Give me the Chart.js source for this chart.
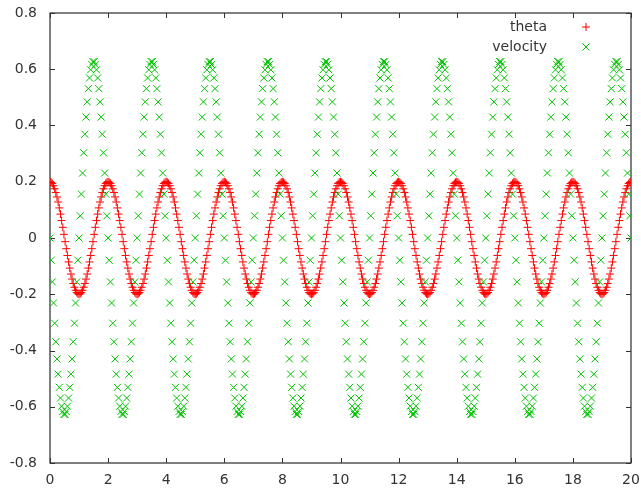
<!DOCTYPE html>
<html><head><meta charset="utf-8">
<script src="https://cdn.jsdelivr.net/npm/chart.js@4.4.0/dist/chart.umd.min.js"></script>
<style>html,body{margin:0;padding:0;background:#fff}#wrap{width:641px;height:490px;position:relative}</style>
</head><body><div id="wrap"><canvas id="c"></canvas></div>
<script>
const seriesNames = ['theta', 'velocity'];

const time = [
0,0.04,0.08,0.12,0.16,0.2,0.24,0.28,0.32,0.36,0.4,0.44,0.48,0.52,0.56,0.6,0.64,0.68,0.72,0.76,0.8,0.84,0.88,0.92,0.96,
1,1.04,1.08,1.12,1.16,1.2,1.24,1.28,1.32,1.36,1.4,1.44,1.48,1.52,1.56,1.6,1.64,1.68,1.72,1.76,1.8,1.84,1.88,1.92,1.96,
2,2.04,2.08,2.12,2.16,2.2,2.24,2.28,2.32,2.36,2.4,2.44,2.48,2.52,2.56,2.6,2.64,2.68,2.72,2.76,2.8,2.84,2.88,2.92,2.96,
3,3.04,3.08,3.12,3.16,3.2,3.24,3.28,3.32,3.36,3.4,3.44,3.48,3.52,3.56,3.6,3.64,3.68,3.72,3.76,3.8,3.84,3.88,3.92,3.96,
4,4.04,4.08,4.12,4.16,4.2,4.24,4.28,4.32,4.36,4.4,4.44,4.48,4.52,4.56,4.6,4.64,4.68,4.72,4.76,4.8,4.84,4.88,4.92,4.96,
5,5.04,5.08,5.12,5.16,5.2,5.24,5.28,5.32,5.36,5.4,5.44,5.48,5.52,5.56,5.6,5.64,5.68,5.72,5.76,5.8,5.84,5.88,5.92,5.96,
6,6.04,6.08,6.12,6.16,6.2,6.24,6.28,6.32,6.36,6.4,6.44,6.48,6.52,6.56,6.6,6.64,6.68,6.72,6.76,6.8,6.84,6.88,6.92,6.96,
7,7.04,7.08,7.12,7.16,7.2,7.24,7.28,7.32,7.36,7.4,7.44,7.48,7.52,7.56,7.6,7.64,7.68,7.72,7.76,7.8,7.84,7.88,7.92,7.96,
8,8.04,8.08,8.12,8.16,8.2,8.24,8.28,8.32,8.36,8.4,8.44,8.48,8.52,8.56,8.6,8.64,8.68,8.72,8.76,8.8,8.84,8.88,8.92,8.96,
9,9.04,9.08,9.12,9.16,9.2,9.24,9.28,9.32,9.36,9.4,9.44,9.48,9.52,9.56,9.6,9.64,9.68,9.72,9.76,9.8,9.84,9.88,9.92,9.96,
10,10.04,10.08,10.12,10.16,10.2,10.24,10.28,10.32,10.36,10.4,10.44,10.48,10.52,10.56,10.6,10.64,10.68,10.72,10.76,10.8,10.84,10.88,10.92,10.96,
11,11.04,11.08,11.12,11.16,11.2,11.24,11.28,11.32,11.36,11.4,11.44,11.48,11.52,11.56,11.6,11.64,11.68,11.72,11.76,11.8,11.84,11.88,11.92,11.96,
12,12.04,12.08,12.12,12.16,12.2,12.24,12.28,12.32,12.36,12.4,12.44,12.48,12.52,12.56,12.6,12.64,12.68,12.72,12.76,12.8,12.84,12.88,12.92,12.96,
13,13.04,13.08,13.12,13.16,13.2,13.24,13.28,13.32,13.36,13.4,13.44,13.48,13.52,13.56,13.6,13.64,13.68,13.72,13.76,13.8,13.84,13.88,13.92,13.96,
14,14.04,14.08,14.12,14.16,14.2,14.24,14.28,14.32,14.36,14.4,14.44,14.48,14.52,14.56,14.6,14.64,14.68,14.72,14.76,14.8,14.84,14.88,14.92,14.96,
15,15.04,15.08,15.12,15.16,15.2,15.24,15.28,15.32,15.36,15.4,15.44,15.48,15.52,15.56,15.6,15.64,15.68,15.72,15.76,15.8,15.84,15.88,15.92,15.96,
16,16.04,16.08,16.12,16.16,16.2,16.24,16.28,16.32,16.36,16.4,16.44,16.48,16.52,16.56,16.6,16.64,16.68,16.72,16.76,16.8,16.84,16.88,16.92,16.96,
17,17.04,17.08,17.12,17.16,17.2,17.24,17.28,17.32,17.36,17.4,17.44,17.48,17.52,17.56,17.6,17.64,17.68,17.72,17.76,17.8,17.84,17.88,17.92,17.96,
18,18.04,18.08,18.12,18.16,18.2,18.24,18.28,18.32,18.36,18.4,18.44,18.48,18.52,18.56,18.6,18.64,18.68,18.72,18.76,18.8,18.84,18.88,18.92,18.96,
19,19.04,19.08,19.12,19.16,19.2,19.24,19.28,19.32,19.36,19.4,19.44,19.48,19.52,19.56,19.6,19.64,19.68,19.72,19.76,19.8,19.84,19.88,19.92,19.96,
20
];

const theta = [
0.2,0.198,0.194,0.186,0.175,0.162,0.146,0.128,0.107,0.085,0.062,0.038,0.013,-0.013,-0.038,-0.062,-0.085,-0.107,-0.128,-0.146,-0.162,-0.175,-0.186,-0.194,-0.198,-0.2,-0.198,-0.194,-0.186,-0.175,-0.162,-0.146,-0.128,-0.107,-0.085,-0.062,-0.038,-0.013,0.013,0.038,0.062,0.085,0.107,0.128,0.146,0.162,0.175,0.186,0.194,0.198,
0.2,0.198,0.194,0.186,0.175,0.162,0.146,0.128,0.107,0.085,0.062,0.038,0.013,-0.013,-0.038,-0.062,-0.085,-0.107,-0.128,-0.146,-0.162,-0.175,-0.186,-0.194,-0.198,-0.2,-0.198,-0.194,-0.186,-0.175,-0.162,-0.146,-0.128,-0.107,-0.085,-0.062,-0.038,-0.013,0.013,0.038,0.062,0.085,0.107,0.128,0.146,0.162,0.175,0.186,0.194,0.198,
0.2,0.198,0.194,0.186,0.175,0.162,0.146,0.128,0.107,0.085,0.062,0.038,0.013,-0.013,-0.038,-0.062,-0.085,-0.107,-0.128,-0.146,-0.162,-0.175,-0.186,-0.194,-0.198,-0.2,-0.198,-0.194,-0.186,-0.175,-0.162,-0.146,-0.128,-0.107,-0.085,-0.062,-0.038,-0.013,0.013,0.038,0.062,0.085,0.107,0.128,0.146,0.162,0.175,0.186,0.194,0.198,
0.2,0.198,0.194,0.186,0.175,0.162,0.146,0.128,0.107,0.085,0.062,0.038,0.013,-0.013,-0.038,-0.062,-0.085,-0.107,-0.128,-0.146,-0.162,-0.175,-0.186,-0.194,-0.198,-0.2,-0.198,-0.194,-0.186,-0.175,-0.162,-0.146,-0.128,-0.107,-0.085,-0.062,-0.038,-0.013,0.013,0.038,0.062,0.085,0.107,0.128,0.146,0.162,0.175,0.186,0.194,0.198,
0.2,0.198,0.194,0.186,0.175,0.162,0.146,0.128,0.107,0.085,0.062,0.038,0.013,-0.013,-0.038,-0.062,-0.085,-0.107,-0.128,-0.146,-0.162,-0.175,-0.186,-0.194,-0.198,-0.2,-0.198,-0.194,-0.186,-0.175,-0.162,-0.146,-0.128,-0.107,-0.085,-0.062,-0.038,-0.013,0.013,0.038,0.062,0.085,0.107,0.128,0.146,0.162,0.175,0.186,0.194,0.198,
0.2,0.198,0.194,0.186,0.175,0.162,0.146,0.128,0.107,0.085,0.062,0.038,0.013,-0.013,-0.038,-0.062,-0.085,-0.107,-0.128,-0.146,-0.162,-0.175,-0.186,-0.194,-0.198,-0.2,-0.198,-0.194,-0.186,-0.175,-0.162,-0.146,-0.128,-0.107,-0.085,-0.062,-0.038,-0.013,0.013,0.038,0.062,0.085,0.107,0.128,0.146,0.162,0.175,0.186,0.194,0.198,
0.2,0.198,0.194,0.186,0.175,0.162,0.146,0.128,0.107,0.085,0.062,0.038,0.013,-0.013,-0.038,-0.062,-0.085,-0.107,-0.128,-0.146,-0.162,-0.175,-0.186,-0.194,-0.198,-0.2,-0.198,-0.194,-0.186,-0.175,-0.162,-0.146,-0.128,-0.107,-0.085,-0.062,-0.038,-0.013,0.013,0.038,0.062,0.085,0.107,0.128,0.146,0.162,0.175,0.186,0.194,0.198,
0.2,0.198,0.194,0.186,0.175,0.162,0.146,0.128,0.107,0.085,0.062,0.038,0.013,-0.013,-0.038,-0.062,-0.085,-0.107,-0.128,-0.146,-0.162,-0.175,-0.186,-0.194,-0.198,-0.2,-0.198,-0.194,-0.186,-0.175,-0.162,-0.146,-0.128,-0.107,-0.085,-0.062,-0.038,-0.013,0.013,0.038,0.062,0.085,0.107,0.128,0.146,0.162,0.175,0.186,0.194,0.198,
0.2,0.198,0.194,0.186,0.175,0.162,0.146,0.128,0.107,0.085,0.062,0.038,0.013,-0.013,-0.038,-0.062,-0.085,-0.107,-0.128,-0.146,-0.162,-0.175,-0.186,-0.194,-0.198,-0.2,-0.198,-0.194,-0.186,-0.175,-0.162,-0.146,-0.128,-0.107,-0.085,-0.062,-0.038,-0.013,0.013,0.038,0.062,0.085,0.107,0.128,0.146,0.162,0.175,0.186,0.194,0.198,
0.2,0.198,0.194,0.186,0.175,0.162,0.146,0.128,0.107,0.085,0.062,0.038,0.013,-0.013,-0.038,-0.062,-0.085,-0.107,-0.128,-0.146,-0.162,-0.175,-0.186,-0.194,-0.198,-0.2,-0.198,-0.194,-0.186,-0.175,-0.162,-0.146,-0.128,-0.107,-0.085,-0.062,-0.038,-0.013,0.013,0.038,0.062,0.085,0.107,0.128,0.146,0.162,0.175,0.186,0.194,0.198,
0.2
];

const velocity = [
0,-0.079,-0.156,-0.231,-0.303,-0.369,-0.43,-0.484,-0.531,-0.569,-0.598,-0.617,-0.627,-0.627,-0.617,-0.598,-0.569,-0.531,-0.484,-0.43,-0.369,-0.303,-0.231,-0.156,-0.079,0,0.079,0.156,0.231,0.303,0.369,0.43,0.484,0.531,0.569,0.598,0.617,0.627,0.627,0.617,0.598,0.569,0.531,0.484,0.43,0.369,0.303,0.231,0.156,0.079,
0,-0.079,-0.156,-0.231,-0.303,-0.369,-0.43,-0.484,-0.531,-0.569,-0.598,-0.617,-0.627,-0.627,-0.617,-0.598,-0.569,-0.531,-0.484,-0.43,-0.369,-0.303,-0.231,-0.156,-0.079,0,0.079,0.156,0.231,0.303,0.369,0.43,0.484,0.531,0.569,0.598,0.617,0.627,0.627,0.617,0.598,0.569,0.531,0.484,0.43,0.369,0.303,0.231,0.156,0.079,
0,-0.079,-0.156,-0.231,-0.303,-0.369,-0.43,-0.484,-0.531,-0.569,-0.598,-0.617,-0.627,-0.627,-0.617,-0.598,-0.569,-0.531,-0.484,-0.43,-0.369,-0.303,-0.231,-0.156,-0.079,0,0.079,0.156,0.231,0.303,0.369,0.43,0.484,0.531,0.569,0.598,0.617,0.627,0.627,0.617,0.598,0.569,0.531,0.484,0.43,0.369,0.303,0.231,0.156,0.079,
0,-0.079,-0.156,-0.231,-0.303,-0.369,-0.43,-0.484,-0.531,-0.569,-0.598,-0.617,-0.627,-0.627,-0.617,-0.598,-0.569,-0.531,-0.484,-0.43,-0.369,-0.303,-0.231,-0.156,-0.079,0,0.079,0.156,0.231,0.303,0.369,0.43,0.484,0.531,0.569,0.598,0.617,0.627,0.627,0.617,0.598,0.569,0.531,0.484,0.43,0.369,0.303,0.231,0.156,0.079,
0,-0.079,-0.156,-0.231,-0.303,-0.369,-0.43,-0.484,-0.531,-0.569,-0.598,-0.617,-0.627,-0.627,-0.617,-0.598,-0.569,-0.531,-0.484,-0.43,-0.369,-0.303,-0.231,-0.156,-0.079,0,0.079,0.156,0.231,0.303,0.369,0.43,0.484,0.531,0.569,0.598,0.617,0.627,0.627,0.617,0.598,0.569,0.531,0.484,0.43,0.369,0.303,0.231,0.156,0.079,
0,-0.079,-0.156,-0.231,-0.303,-0.369,-0.43,-0.484,-0.531,-0.569,-0.598,-0.617,-0.627,-0.627,-0.617,-0.598,-0.569,-0.531,-0.484,-0.43,-0.369,-0.303,-0.231,-0.156,-0.079,0,0.079,0.156,0.231,0.303,0.369,0.43,0.484,0.531,0.569,0.598,0.617,0.627,0.627,0.617,0.598,0.569,0.531,0.484,0.43,0.369,0.303,0.231,0.156,0.079,
0,-0.079,-0.156,-0.231,-0.303,-0.369,-0.43,-0.484,-0.531,-0.569,-0.598,-0.617,-0.627,-0.627,-0.617,-0.598,-0.569,-0.531,-0.484,-0.43,-0.369,-0.303,-0.231,-0.156,-0.079,0,0.079,0.156,0.231,0.303,0.369,0.43,0.484,0.531,0.569,0.598,0.617,0.627,0.627,0.617,0.598,0.569,0.531,0.484,0.43,0.369,0.303,0.231,0.156,0.079,
0,-0.079,-0.156,-0.231,-0.303,-0.369,-0.43,-0.484,-0.531,-0.569,-0.598,-0.617,-0.627,-0.627,-0.617,-0.598,-0.569,-0.531,-0.484,-0.43,-0.369,-0.303,-0.231,-0.156,-0.079,0,0.079,0.156,0.231,0.303,0.369,0.43,0.484,0.531,0.569,0.598,0.617,0.627,0.627,0.617,0.598,0.569,0.531,0.484,0.43,0.369,0.303,0.231,0.156,0.079,
0,-0.079,-0.156,-0.231,-0.303,-0.369,-0.43,-0.484,-0.531,-0.569,-0.598,-0.617,-0.627,-0.627,-0.617,-0.598,-0.569,-0.531,-0.484,-0.43,-0.369,-0.303,-0.231,-0.156,-0.079,0,0.079,0.156,0.231,0.303,0.369,0.43,0.484,0.531,0.569,0.598,0.617,0.627,0.627,0.617,0.598,0.569,0.531,0.484,0.43,0.369,0.303,0.231,0.156,0.079,
0,-0.079,-0.156,-0.231,-0.303,-0.369,-0.43,-0.484,-0.531,-0.569,-0.598,-0.617,-0.627,-0.627,-0.617,-0.598,-0.569,-0.531,-0.484,-0.43,-0.369,-0.303,-0.231,-0.156,-0.079,0,0.079,0.156,0.231,0.303,0.369,0.43,0.484,0.531,0.569,0.598,0.617,0.627,0.627,0.617,0.598,0.569,0.531,0.484,0.43,0.369,0.303,0.231,0.156,0.079,
0
];

const xTickValues = [0, 2, 4, 6, 8, 10, 12, 14, 16, 18, 20];
const xTickLabels = ['0', '2', '4', '6', '8', '10', '12', '14', '16', '18', '20'];
const yTickValues = [-0.8, -0.6, -0.4, -0.2, 0, 0.2, 0.4, 0.6, 0.8];
const yTickLabels = ['-0.8', '-0.6', '-0.4', '-0.2', '0', '0.2', '0.4', '0.6', '0.8'];

const FONT_FAMILY = '"DejaVu Sans", sans-serif';
const FONT_SIZE = 14;
const TEXT_COLOR = '#333333';
const THETA_COLOR = '#ff0000';
const VEL_COLOR = '#00c000';

function toPoints(ys) { return time.map((t, i) => ({ x: t, y: ys[i] })); }
function labelFor(values, labels, v) {
  const i = values.findIndex(u => Math.abs(u - v) < 1e-9);
  return i >= 0 ? labels[i] : '';
}

const framePlugin = {
  id: 'gnuplotFrame',
  beforeDatasetsDraw(chart) {
    const { ctx, chartArea: a, scales: { x, y } } = chart;
    const L = Math.round(a.left), R = Math.round(a.right), T = Math.round(a.top), B = Math.round(a.bottom);
    ctx.save();
    ctx.strokeStyle = '#000';
    ctx.lineWidth = 1;
    ctx.strokeRect(L, T, R - L, B - T);
    ctx.strokeStyle = '#333';
    ctx.beginPath();
    const tl = 5;
    xTickValues.forEach(v => {
      const px = Math.round(x.getPixelForValue(v)) + 0.5;
      ctx.moveTo(px, B); ctx.lineTo(px, B - tl);
      ctx.moveTo(px, T); ctx.lineTo(px, T + tl);
    });
    yTickValues.forEach(v => {
      const py = Math.round(y.getPixelForValue(v)) + 0.5;
      ctx.moveTo(L, py); ctx.lineTo(L + tl, py);
      ctx.moveTo(R, py); ctx.lineTo(R - tl, py);
    });
    ctx.stroke();
    ctx.restore();
  }
};

const keyPlugin = {
  id: 'gnuplotKey',
  afterDraw(chart) {
    const { ctx } = chart;
    ctx.save();
    ctx.font = FONT_SIZE + 'px ' + FONT_FAMILY;
    ctx.fillStyle = TEXT_COLOR;
    ctx.textAlign = 'right';
    ctx.textBaseline = 'middle';
    const textRight = 547, markX = 586, rows = [27, 47];
    ctx.fillText(seriesNames[0], textRight, rows[0]);
    ctx.fillText(seriesNames[1], textRight, rows[1]);
    ctx.lineWidth = 1;
    ctx.strokeStyle = THETA_COLOR;
    ctx.beginPath();
    ctx.moveTo(markX - 4, rows[0]); ctx.lineTo(markX + 4, rows[0]);
    ctx.moveTo(markX, rows[0] - 4); ctx.lineTo(markX, rows[0] + 4);
    ctx.stroke();
    ctx.strokeStyle = VEL_COLOR;
    ctx.beginPath();
    ctx.moveTo(markX - 3.5, rows[1] - 3.5); ctx.lineTo(markX + 3.5, rows[1] + 3.5);
    ctx.moveTo(markX - 3.5, rows[1] + 3.5); ctx.lineTo(markX + 3.5, rows[1] - 3.5);
    ctx.stroke();
    ctx.restore();
  }
};

new Chart(document.getElementById('c'), {
  type: 'scatter',
  data: {
    datasets: [
      {
        label: seriesNames[0],
        data: toPoints(theta),
        pointStyle: 'cross',
        pointRadius: 4,
        borderColor: THETA_COLOR,
        backgroundColor: THETA_COLOR,
        pointBorderWidth: 1,
        showLine: false,
        order: 2
      },
      {
        label: seriesNames[1],
        data: toPoints(velocity),
        pointStyle: 'crossRot',
        pointRadius: 5,
        borderColor: VEL_COLOR,
        backgroundColor: VEL_COLOR,
        pointBorderWidth: 1,
        showLine: false,
        order: 1
      }
    ]
  },
  options: {
    responsive: true,
    maintainAspectRatio: false,
    animation: false,
    devicePixelRatio: 1,
    events: [],
    layout: { padding: { top: 13, right: 10, left: 0, bottom: 0 } },
    plugins: { legend: { display: false }, tooltip: { enabled: false } },
    scales: {
      x: {
        type: 'linear', min: 0, max: 20,
        afterBuildTicks(s) { s.ticks = xTickValues.map(v => ({ value: v })); },
        afterFit(s) { s.height = 27; s.paddingLeft = 0; s.paddingRight = 0; },
        grid: { display: false, drawTicks: false },
        border: { display: false },
        ticks: {
          autoSkip: false, maxRotation: 0, padding: 9,
          color: TEXT_COLOR, font: { family: FONT_FAMILY, size: FONT_SIZE },
          callback: v => labelFor(xTickValues, xTickLabels, v)
        }
      },
      y: {
        type: 'linear', min: -0.8, max: 0.8,
        afterBuildTicks(s) { s.ticks = yTickValues.map(v => ({ value: v })); },
        afterFit(s) { s.width = 50; s.paddingTop = 0; s.paddingBottom = 0; },
        grid: { display: false, drawTicks: false },
        border: { display: false },
        ticks: {
          autoSkip: false, padding: 13,
          color: TEXT_COLOR, font: { family: FONT_FAMILY, size: FONT_SIZE },
          callback: v => labelFor(yTickValues, yTickLabels, v)
        }
      }
    }
  },
  plugins: [framePlugin, keyPlugin]
});
</script>
</body></html>
